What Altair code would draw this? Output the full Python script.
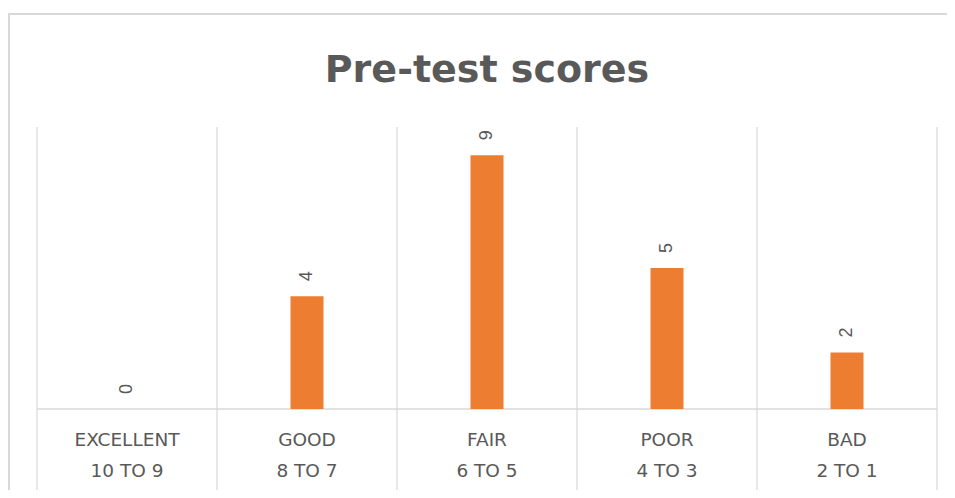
import altair as alt
import pandas as pd

title_text = "Pre-test scores"
categories = ["EXCELLENT", "GOOD", "FAIR", "POOR", "BAD"]
ranges = ["10 TO 9", "8 TO 7", "6 TO 5", "4 TO 3", "2 TO 1"]
counts = [0, 4, 9, 5, 2]
y_max = 10

W, H = 900, 282
GRAY = "#595959"
LINE = "#D9D9D9"
ORANGE = "#ED7D31"

n = len(categories)
df = pd.DataFrame({
    "pos": [i + 0.5 for i in range(n)],
    "category": categories,
    "range": ranges,
    "count": counts,
})
bounds = pd.DataFrame({"b": list(range(n + 1))})
base_df = pd.DataFrame({"x0": [0], "x1": [n], "y0": [0], "title": [title_text]})

xs = alt.Scale(domain=[0, n], nice=False, zero=False, padding=0)
ys = alt.Scale(domain=[0, y_max], nice=False, padding=0)

x_c = alt.X("pos:Q", scale=xs, axis=None)

vlines = alt.Chart(bounds).mark_rule(color=LINE, strokeWidth=1.2).encode(
    x=alt.X("b:Q", scale=xs, axis=None),
    y=alt.value(0),
    y2=alt.value(H + 81),
)

baseline = alt.Chart(base_df).mark_rule(color=LINE, strokeWidth=1.5).encode(
    x=alt.X("x0:Q", scale=xs, axis=None),
    x2="x1:Q",
    y=alt.Y("y0:Q", scale=ys, axis=None),
)

bars = alt.Chart(df).mark_bar(color=ORANGE, size=33).encode(
    x=x_c,
    y=alt.Y("count:Q", scale=ys, axis=None),
)

labels = alt.Chart(df).mark_text(
    angle=270, align="left", baseline="middle", dx=15,
    font="Liberation Sans", fontSize=18, color=GRAY,
).encode(
    x=x_c,
    y=alt.Y("count:Q", scale=ys, axis=None),
    text=alt.Text("count:Q"),
)

cat_text = alt.Chart(df).mark_text(
    baseline="alphabetic", font="DejaVu Sans", fontSize=18.5, color=GRAY,
).encode(
    x=x_c,
    y=alt.value(H + 37),
    text="category:N",
)

range_text = alt.Chart(df).mark_text(
    baseline="alphabetic", font="DejaVu Sans", fontSize=18.5, color=GRAY,
).encode(
    x=x_c,
    y=alt.value(H + 68),
    text="range:N",
)

title_mark = alt.Chart(base_df).mark_text(
    baseline="alphabetic", align="center", font="DejaVu Sans", fontSize=38,
    fontWeight="bold", color=GRAY,
).encode(
    x=alt.value(W / 2),
    y=alt.value(-45),
    text="title:N",
)

border_top = alt.Chart(base_df).mark_rule(color=LINE, strokeWidth=2).encode(
    x=alt.value(-29), x2=alt.value(W + 20), y=alt.value(-113),
)
border_left = alt.Chart(base_df).mark_rule(color=LINE, strokeWidth=2).encode(
    x=alt.value(-28), y=alt.value(-113), y2=alt.value(H + 81),
)

chart = alt.layer(
    border_top, border_left, vlines, baseline, bars, labels, cat_text,
    range_text, title_mark
).properties(
    width=W,
    height=H,
    autosize=alt.AutoSizeParams(type="none"),
    padding={"left": 29, "top": 119, "right": 10, "bottom": 81},
).configure_view(stroke=None)

chart.save("out.html", embed_options={"renderer": "svg", "actions": False})
